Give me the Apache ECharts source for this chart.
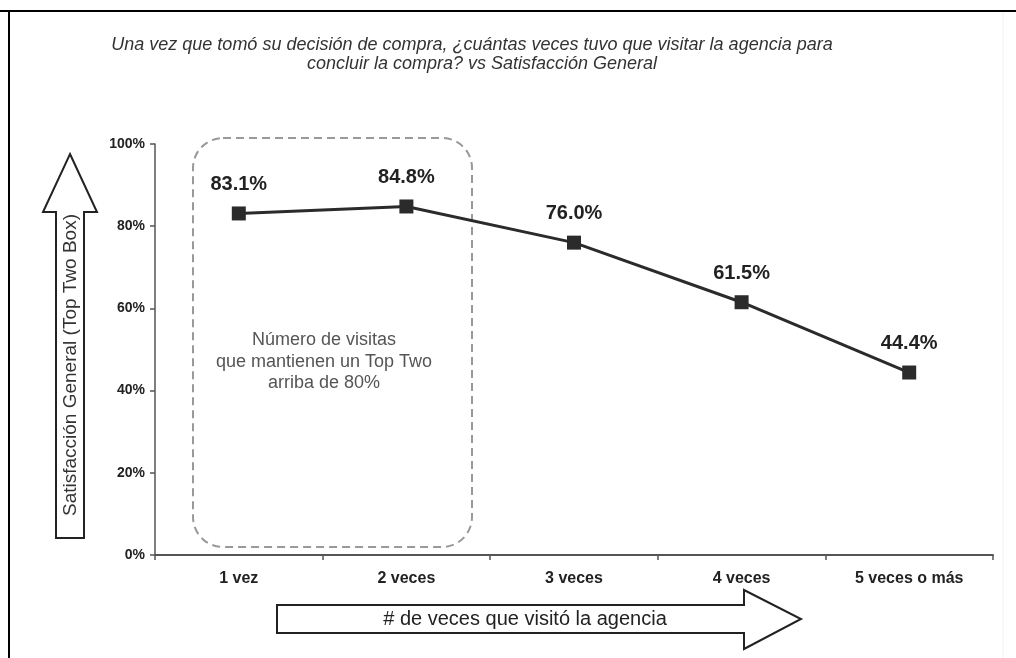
<!DOCTYPE html>
<html>
<head>
<meta charset="utf-8">
<script src="https://cdn.jsdelivr.net/npm/echarts@6/dist/echarts.min.js"></script>
<style>
  html, body { margin: 0; padding: 0; background: #fff; }
  #chart { width: 1016px; height: 658px; }
</style>
</head>
<body>
<div id="chart"></div>
<script>
// Visits needed to close the purchase vs overall satisfaction (Top Two Box)
const categories = ['1 vez', '2 veces', '3 veces', '4 veces', '5 veces o más'];
const satisfaction = [83.1, 84.8, 76.0, 61.5, 44.4];
const yTicks = [0, 20, 40, 60, 80, 100];

const titleLines = [
  'Una vez que tomó su decisión de compra, ¿cuántas veces tuvo que visitar la agencia para',
  'concluir la compra? vs Satisfacción General'
];
const yAxisCaption = 'Satisfacción General (Top Two Box)';
const xAxisCaption = '# de veces que visitó la agencia';
const boxNote = ['Número de visitas', 'que mantienen un Top Two', 'arriba de 80%'];

const chart = echarts.init(document.getElementById('chart'), null, { renderer: 'canvas' });

const FONT = '"Liberation Sans", Arial, sans-serif';

const titleStyle = {
  align: 'center',
  verticalAlign: 'middle',
  fontFamily: FONT,
  fontStyle: 'italic',
  fontSize: 18,
  fill: '#333'
};

const option = {
  backgroundColor: '#ffffff',
  animation: false,
  grid: { left: 155, right: 23, top: 144, bottom: 103, containLabel: false },
  xAxis: {
    type: 'category',
    data: categories,
    boundaryGap: true,
    axisLine: { lineStyle: { color: '#555', width: 2 } },
    axisTick: { show: true, length: 5, alignWithLabel: false, lineStyle: { color: '#555', width: 1.5 } },
    axisLabel: {
      margin: 16,
      fontFamily: FONT,
      fontWeight: 'bold',
      fontSize: 16,
      color: '#222'
    }
  },
  yAxis: {
    type: 'value',
    min: yTicks[0],
    max: yTicks[yTicks.length - 1],
    interval: yTicks[1] - yTicks[0],
    splitLine: { show: false },
    axisLine: { show: true, lineStyle: { color: '#555', width: 1.5 } },
    axisTick: { show: true, length: 5, lineStyle: { color: '#555', width: 1.5 } },
    axisLabel: {
      margin: 10,
      formatter: '{value}%',
      fontFamily: FONT,
      fontWeight: 'bold',
      fontSize: 14,
      color: '#222'
    }
  },
  series: [{
    type: 'line',
    data: satisfaction,
    symbol: 'rect',
    symbolSize: 14,
    lineStyle: { color: '#2b2b2b', width: 3 },
    itemStyle: { color: '#2b2b2b' },
    label: {
      show: true,
      position: 'top',
      distance: 12,
      formatter: p => p.value.toFixed(1) + '%',
      fontFamily: FONT,
      fontWeight: 'bold',
      fontSize: 20,
      color: '#222'
    },
    z: 5
  }],
  graphic: [
    // outer frame
    { type: 'line', shape: { x1: 0, y1: 11, x2: 1016, y2: 11 }, style: { stroke: '#000', lineWidth: 2 } },
    { type: 'line', shape: { x1: 9, y1: 10, x2: 9, y2: 658 }, style: { stroke: '#000', lineWidth: 2 } },
    { type: 'line', shape: { x1: 1003, y1: 12, x2: 1003, y2: 658 }, style: { stroke: '#f2f2f2', lineWidth: 1 } },
    // two-line heading
    { type: 'text', x: 472, y: 45, style: Object.assign({ text: titleLines[0] }, titleStyle) },
    { type: 'text', x: 482, y: 64, style: Object.assign({ text: titleLines[1] }, titleStyle) },
    // dashed highlight box around the first two categories
    {
      type: 'rect',
      shape: { x: 193, y: 138, width: 279, height: 409, r: 30 },
      style: { fill: 'none', stroke: '#999', lineWidth: 2, lineDash: [8, 5] },
      z: 1
    },
    {
      type: 'text',
      x: 324, y: 362,
      style: {
        text: boxNote.join('\n'),
        align: 'center',
        verticalAlign: 'middle',
        fontFamily: FONT,
        fontSize: 18,
        lineHeight: 21.5,
        fill: '#555'
      },
      z: 2
    },
    // vertical arrow (y-axis caption)
    {
      type: 'polygon',
      shape: { points: [[70, 154], [97, 212], [84, 212], [84, 538], [56, 538], [56, 212], [43, 212]] },
      style: { fill: '#fff', stroke: '#222', lineWidth: 2 }
    },
    {
      type: 'text',
      x: 71, y: 365,
      rotation: Math.PI / 2,
      style: {
        text: yAxisCaption,
        align: 'center',
        verticalAlign: 'middle',
        fontFamily: FONT,
        fontSize: 19,
        fill: '#333'
      }
    },
    // horizontal arrow (x-axis caption)
    {
      type: 'polygon',
      shape: { points: [[277, 605], [744, 605], [744, 590], [801, 619], [744, 649], [744, 633], [277, 633]] },
      style: { fill: '#fff', stroke: '#222', lineWidth: 2 }
    },
    {
      type: 'text',
      x: 525, y: 619,
      style: {
        text: xAxisCaption,
        align: 'center',
        verticalAlign: 'middle',
        fontFamily: FONT,
        fontSize: 20,
        fill: '#222'
      }
    }
  ]
};

chart.setOption(option);
</script>
</body>
</html>
